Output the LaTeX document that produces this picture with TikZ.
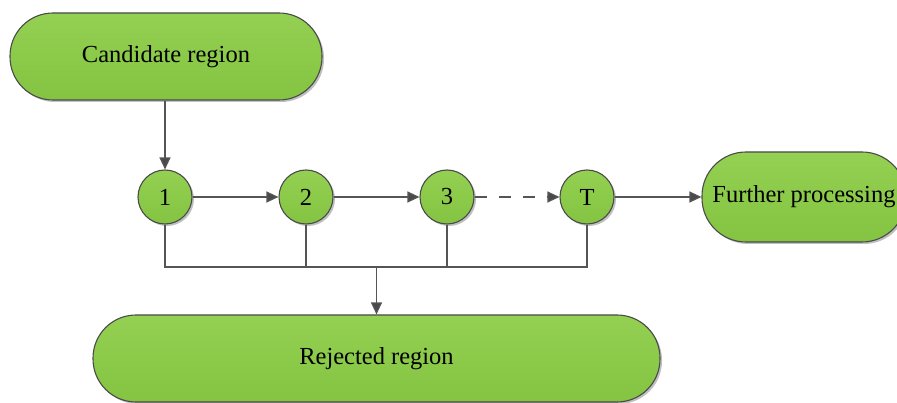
\documentclass[tikz,border=0pt]{standalone}
\usepackage{fontspec}
\setmainfont{Liberation Serif}
\usetikzlibrary{arrows.meta,shadows}
\definecolor{gtop}{HTML}{94D052}
\definecolor{gbot}{HTML}{84C442}
\definecolor{edge}{HTML}{4A4A4A}
\definecolor{wire}{HTML}{555555}
\tikzset{
  x=1pt, y=-1pt,
  gshape/.style={draw=edge, line width=1.1pt, top color=gtop, bottom color=gbot,
    drop shadow={shadow xshift=2pt, shadow yshift=-2pt, opacity=0.25, fill=black},
    font=\fontsize{24.5}{29}\selectfont, inner sep=0pt},
  term/.style={gshape, rectangle},
  stage/.style={gshape, circle, minimum size=54pt},
  wire/.style={draw=wire, line width=1.2pt},
  arr/.style={wire, -{Triangle[length=12pt,width=11pt,fill=edge]}},
}
\begin{document}
\begin{tikzpicture}
\useasboundingbox (0,0) rectangle (897,403);
\clip (0,0) rectangle (897,403);
\node[term, minimum width=312pt, minimum height=87pt, rounded corners=43pt] (cand) at (166,56.5) {Candidate region};
\node[term, minimum width=204pt, minimum height=90pt, rounded corners=44pt] (fur) at (804,197) {Further processing};
\node[term, minimum width=567pt, minimum height=87pt, rounded corners=43pt] (rej) at (376.5,358.5) {Rejected region};
\node[stage] (c1) at (165,197) {1};
\node[stage] (c2) at (306,197) {2};
\node[stage] (c3) at (447,197) {3};
\node[stage] (cT) at (587,197) {T};
\coordinate (bus) at (376.5,267);
\draw[arr] (c1 |- cand.south) -- (c1);
\draw[arr] (c1) -- (c2);
\draw[arr] (c2) -- (c3);
\draw[arr, dash pattern=on 12pt off 12pt] (c3) -- (cT);
\draw[arr] (cT) -- (fur);
\draw[wire] (c1.south) -- (c1 |- bus) -- (cT |- bus) -- (cT.south);
\draw[wire] (c2.south) -- (c2 |- bus);
\draw[wire] (c3.south) -- (c3 |- bus);
\draw[arr] (bus) -- (rej.north);
\end{tikzpicture}
\end{document}
